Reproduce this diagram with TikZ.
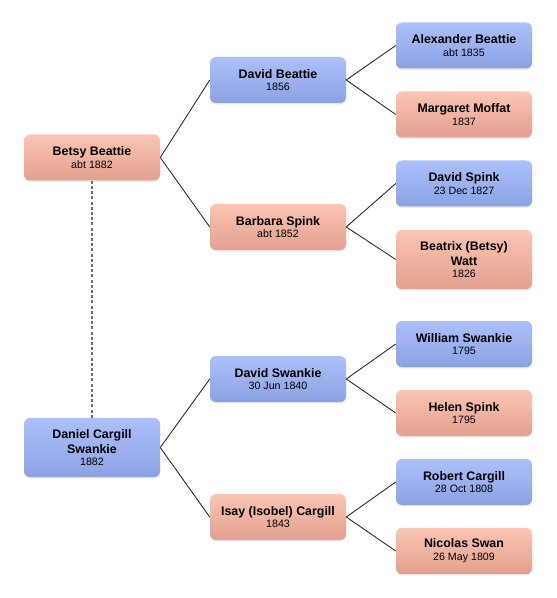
\documentclass[tikz,border=0pt]{standalone}
\usepackage{fontspec}
\setmainfont{Liberation Sans}
\usepackage{tikz}
\usetikzlibrary{shapes,shadows}
\definecolor{MaleTop}{RGB}{172, 193, 250}
\definecolor{MaleBottom}{RGB}{140, 161, 226}
\definecolor{FemaleTop}{RGB}{252, 197, 179}
\definecolor{FemaleBottom}{RGB}{226, 160, 142}
\definecolor{LinkGray}{RGB}{110, 110, 110}

\newcommand{\born}[1]{{\fontsize{8}{9.5}\selectfont #1}}
\newcommand{\who}[2]{\textbf{#1}\\[-1.6pt]\born{#2}}

\begin{document}
\begin{tikzpicture}[x=0.75pt, y=-0.75pt,
    person/.style={rounded corners=4.5pt, minimum width=102pt, minimum height=34.5pt,
      inner xsep=4pt, inner ysep=8.3pt, align=center,
      font=\fontsize{9.3}{11.25}\selectfont,
      drop shadow={shadow xshift=0pt, shadow yshift=-1pt, opacity=0.18}},
    male/.style={person, top color=MaleTop, bottom color=MaleBottom},
    female/.style={person, top color=FemaleTop, bottom color=FemaleBottom},
    link/.style={line width=0.65pt, black!85},
    spouse/.style={line width=0.9pt, LinkGray, dash pattern=on 2.3pt off 1.6pt}]
    \useasboundingbox (0,0) rectangle (556,598);

    % children
    \node[female] (betsy) at (92,157.5) {\who{Betsy Beattie}{abt 1882}};
    \node[male] (daniel) at (92,447.5) {\textbf{Daniel Cargill}\\\textbf{Swankie}\\[-1.6pt]\born{1882}};

    % parents
    \node[male] (dbeattie) at (278,80) {\who{David Beattie}{1856}};
    \node[female] (barbara) at (278,227) {\who{Barbara Spink}{abt 1852}};
    \node[male] (dswankie) at (278,379) {\who{David Swankie}{30 Jun 1840}};
    \node[female] (isay) at (278,517) {\who{Isay (Isobel) Cargill}{1843}};

    % grandparents
    \node[male] (alexander) at (464,45.5) {\who{Alexander Beattie}{abt 1835}};
    \node[female] (margaret) at (464,114.5) {\who{Margaret Moffat}{1837}};
    \node[male] (dspink) at (464,183.5) {\who{David Spink}{23 Dec 1827}};
    \node[female] (beatrix) at (464,259.5) {\textbf{Beatrix (Betsy)}\\\textbf{Watt}\\[-1.6pt]\born{1826}};
    \node[male] (william) at (464,344) {\who{William Swankie}{1795}};
    \node[female] (helen) at (464,413) {\who{Helen Spink}{1795}};
    \node[male] (robert) at (464,482) {\who{Robert Cargill}{28 Oct 1808}};
    \node[female] (nicolas) at (464,551) {\who{Nicolas Swan}{26 May 1809}};

    \draw[spouse] (betsy.south) -- (daniel.north);

    \draw[link] (betsy.east) -- (dbeattie.west);
    \draw[link] (betsy.east) -- (barbara.west);
    \draw[link] (daniel.east) -- (dswankie.west);
    \draw[link] (daniel.east) -- (isay.west);

    \draw[link] (dbeattie.east) -- (alexander.west);
    \draw[link] (dbeattie.east) -- (margaret.west);
    \draw[link] (barbara.east) -- (dspink.west);
    \draw[link] (barbara.east) -- (beatrix.west);
    \draw[link] (dswankie.east) -- (william.west);
    \draw[link] (dswankie.east) -- (helen.west);
    \draw[link] (isay.east) -- (robert.west);
    \draw[link] (isay.east) -- (nicolas.west);
  \end{tikzpicture}
\end{document}
